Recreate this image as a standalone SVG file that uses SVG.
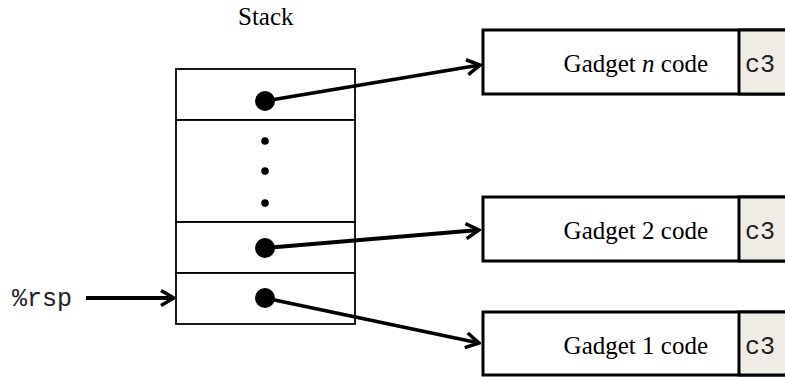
<svg xmlns="http://www.w3.org/2000/svg" width="785" height="377" viewBox="0 0 785 377">
<style>
.serif{font-family:"Liberation Serif","Times New Roman",serif;font-size:25px;fill:#000}
.mono{font-family:"Liberation Mono","Courier New",monospace;font-size:25px;fill:#222;font-weight:300}
.cell{fill:#fff;stroke:#000;stroke-width:1.8}
.gbox{fill:#fff;stroke:#000;stroke-width:3}
.ret{fill:#efece5;stroke:#000;stroke-width:3}
.conn{stroke:#000;stroke-width:3.8;fill:none}
</style>
<defs>
<marker id="arr" markerUnits="userSpaceOnUse" viewBox="-16 -10 18 20" refX="0" refY="0" markerWidth="18" markerHeight="20" orient="auto">
<path d="M-13,-7.5 L0,0 L-13,7.5" fill="none" stroke="#000" stroke-width="3.5" stroke-linejoin="miter"/>
</marker>
</defs>
<rect width="785" height="377" fill="#fff"/>
<g id="stack">
<text class="serif" x="238" y="25">Stack</text>
<rect class="cell" x="176" y="69" width="179" height="51"/>
<rect class="cell" x="176" y="120" width="179" height="102"/>
<rect class="cell" x="176" y="222" width="179" height="51"/>
<rect class="cell" x="176" y="273" width="179" height="51"/>
<circle cx="265" cy="101" r="10"/>
<circle cx="265" cy="141" r="3.8"/>
<circle cx="265" cy="171" r="3.8"/>
<circle cx="265" cy="203" r="3.8"/>
<circle cx="265" cy="248" r="10"/>
<circle cx="265" cy="298" r="10"/>
</g>
<g id="rsp">
<text class="mono" x="12" y="306">%rsp</text>
</g>
<g id="gadget-n">
<rect class="gbox" x="483" y="30" width="310" height="64"/>
<rect class="ret" x="739" y="30" width="54" height="64"/>
<text class="serif" x="708" y="72" text-anchor="end">Gadget <tspan font-style="italic">n</tspan> code</text>
<text class="mono" x="745" y="72">c3</text>
</g>
<g id="gadget-2">
<rect class="gbox" x="483" y="197" width="310" height="64"/>
<rect class="ret" x="739" y="197" width="54" height="64"/>
<text class="serif" x="708" y="239" text-anchor="end">Gadget 2 code</text>
<text class="mono" x="745" y="239">c3</text>
</g>
<g id="gadget-1">
<rect class="gbox" x="483" y="312" width="310" height="63"/>
<rect class="ret" x="739" y="312" width="54" height="63"/>
<text class="serif" x="708" y="354" text-anchor="end">Gadget 1 code</text>
<text class="mono" x="745" y="354">c3</text>
</g>
<g id="connectors">
<line class="conn" x1="265" y1="101" x2="480" y2="65" marker-end="url(#arr)"/>
<line class="conn" x1="265" y1="248" x2="479" y2="230" marker-end="url(#arr)"/>
<line class="conn" x1="265" y1="298" x2="479" y2="343" marker-end="url(#arr)"/>
<line class="conn" x1="86" y1="298" x2="174" y2="298" marker-end="url(#arr)"/>
</g>
</svg>
